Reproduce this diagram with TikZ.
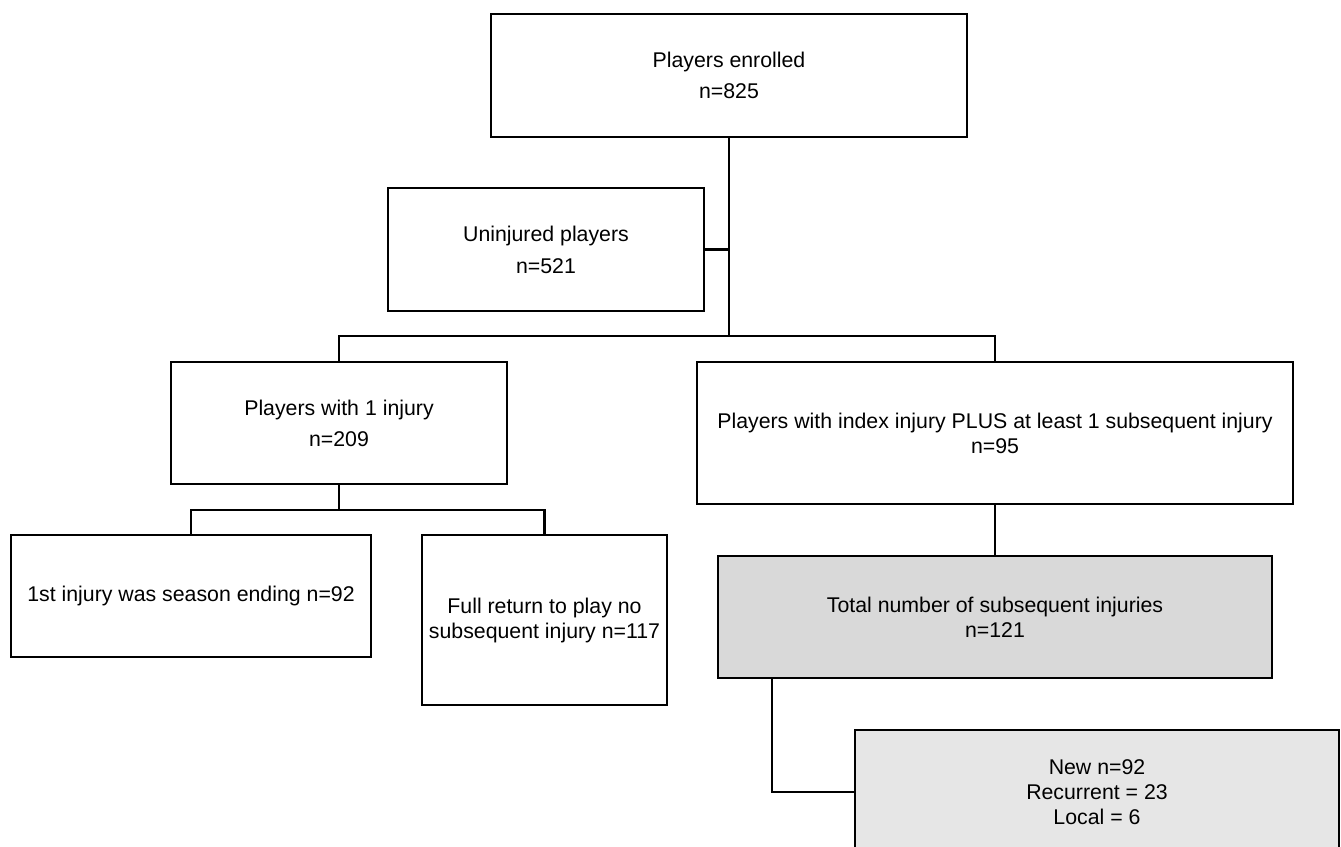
\documentclass[tikz,border=0pt]{standalone}
\usepackage{fontspec}
\setmainfont{Liberation Sans}
\usepackage{tikz}
\usetikzlibrary{positioning, calc}
\usepackage{xcolor}
\definecolor{boxgray}{RGB}{217,217,217}
\definecolor{boxlight}{RGB}{230,230,230}

\begin{document}
\begin{tikzpicture}[x=1pt, y=-1pt, line width=2.2pt,
    box/.style={draw, rectangle, align=center, inner sep=0pt,
      font=\fontsize{21.3}{25}\selectfont}]
  \useasboundingbox[fill=white] (0,0) rectangle (1341,846);
  \node[box, minimum width=476, minimum height=123] (enrolled) at (729,75.5) {Players enrolled\\[6pt]n=825};
  \node[box, minimum width=316, minimum height=123] (uninjured) at (546,249.5) {Uninjured players\\[7pt]n=521};
  \node[box, minimum width=336, minimum height=122] (one) at (339,423) {Players with 1 injury\\[6pt]n=209};
  \node[box, minimum width=596, minimum height=142] (index) at (995,433) {Players with index injury PLUS at least 1 subsequent injury\\n=95};
  \node[box, minimum width=360, minimum height=122] (ending) at (191,596) {1st injury was season ending n=92};
  \node[box, minimum width=245, minimum height=170] (fullret) at (544.5,620) {Full return to play no\\subsequent injury n=117};
  \node[box, fill=boxgray, minimum width=554, minimum height=122] (total) at (995,617) {Total number of subsequent injuries\\n=121};
  \node[box, fill=boxlight, minimum width=484, minimum height=124] (types) at (1097,792) {New n=92\\Recurrent = 23\\Local = 6};
  \coordinate (split) at (729,336);
  \coordinate (onesplit) at (339,510);
  \draw (enrolled.south) -- (split);
  \draw (uninjured.east) -- (uninjured.east -| split);
  \draw (one.north) |- (split) -| (index.north);
  \draw (one.south) -- (onesplit);
  \draw (ending.north) |- (onesplit) -| (fullret.north);
  \draw (index.south) -- (total.north);
  \draw ([xshift=55pt]total.south west) |- (types.west);
\end{tikzpicture}
\end{document}
